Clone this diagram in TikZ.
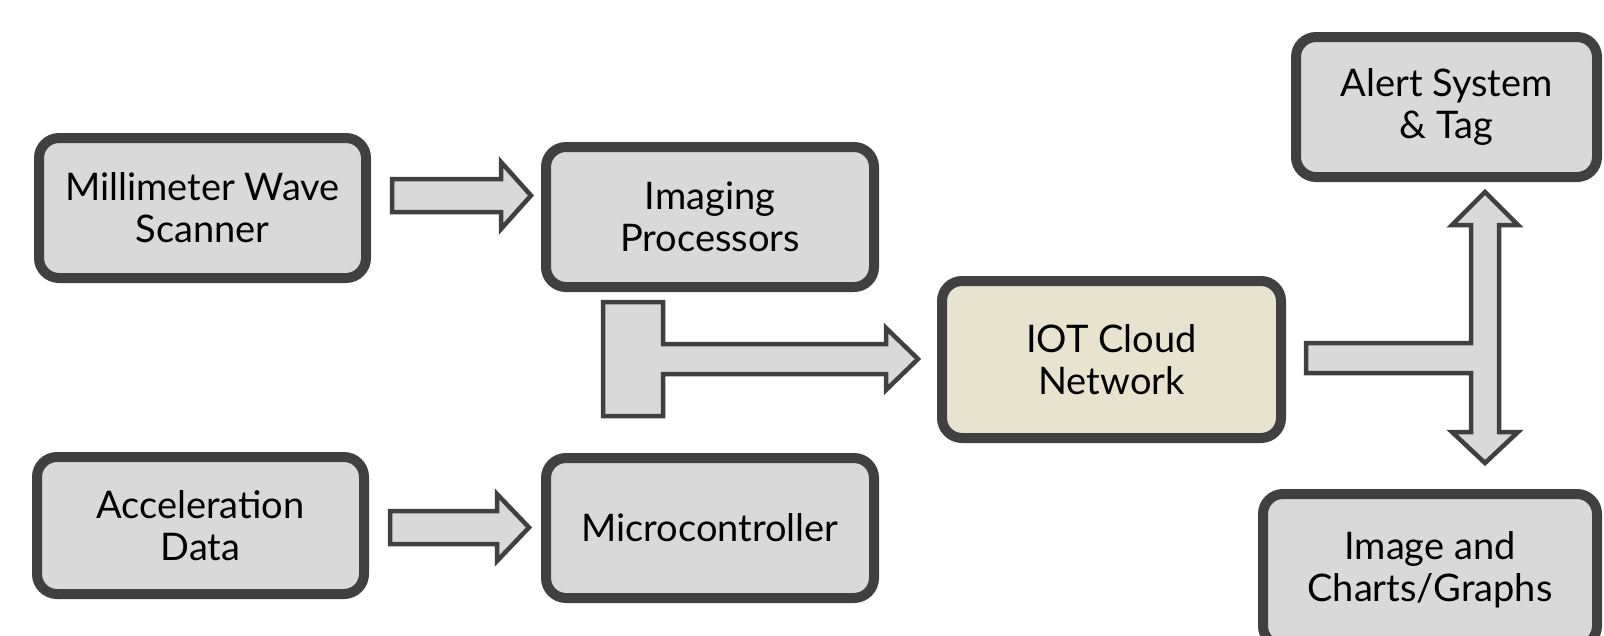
\documentclass[tikz,border=0pt]{standalone}
\usepackage{fontspec}
\setmainfont{Lato}
\usetikzlibrary{calc}
\definecolor{edgecol}{HTML}{404040}
\definecolor{boxfill}{HTML}{D9D9D9}
\definecolor{cloudfill}{HTML}{E8E3CF}
\tikzset{
  blockbox/.style={draw=edgecol, fill=boxfill, line width=10pt, rounded corners=20pt,
    align=center, inner sep=0pt, font=\fontsize{38}{42}\selectfont},
  blockarrow/.style={draw=edgecol, fill=boxfill, line width=4.5pt, line join=miter}
}
\begin{document}
\begin{tikzpicture}[x=1pt,y=-1pt]
\useasboundingbox (0,0) rectangle (1604,635);
\node[blockbox, minimum width=327pt, minimum height=140pt] (mws) at (202.5,208) {Millimeter Wave\\Scanner};
\node[blockbox, minimum width=328pt, minimum height=140pt] (imp) at (710,217) {Imaging\\Processors};
\node[blockbox, fill=cloudfill, minimum width=339pt, minimum height=157pt] (iot) at (1111.5,359.5) {IOT Cloud\\Network};
\node[blockbox, minimum width=301pt, minimum height=140pt] (alert) at (1446.5,107) {Alert System\\\& Tag};
\node[blockbox, minimum width=334pt, minimum height=152pt] (img) at (1430,570) {Image and\\Charts/Graphs};
\node[blockbox, minimum width=327pt, minimum height=137pt] (acc) at (200.5,525.5) {Acceleration\\Data};
\node[blockbox, minimum width=328pt, minimum height=140pt] (mic) at (710,528) {Microcontroller};

\coordinate (a1) at ($(mws.east)+(21,-29)$);
\draw[blockarrow] (a1) -- ++(109,0) -- ++(0,-17) -- ++(30,33.5) -- ++(-30,33.5) -- ++(0,-17) -- ++(-109,0) -- cycle;

\coordinate (a2) at ($(acc.east)+(21,-14.5)$);
\draw[blockarrow] (a2) -- ++(107,0) -- ++(0,-17) -- ++(32,33.5) -- ++(-32,33.5) -- ++(0,-17) -- ++(-107,0) -- cycle;

\coordinate (a3) at ($(imp.south west)+(62,10)$);
\draw[blockarrow] (a3) -- ++(60,0) -- ++(0,42) -- ++(223,0) -- ++(0,-16) -- ++(32,31) -- ++(-32,31) -- ++(0,-16) -- ++(-223,0) -- ++(0,42) -- ++(-60,0) -- cycle;

\coordinate (a4) at ($(iot.east)+(20,-16.5)$);
\draw[blockarrow] (a4) -- ++(165,0) -- ++(0,-118) -- ++(-19,0) -- ++(33,-33) -- ++(33,33) -- ++(-19,0)
  -- ++(0,207) -- ++(19,0) -- ++(-33,31) -- ++(-33,-31) -- ++(19,0) -- ++(0,-59) -- ++(-165,0) -- cycle;
\end{tikzpicture}
\end{document}
